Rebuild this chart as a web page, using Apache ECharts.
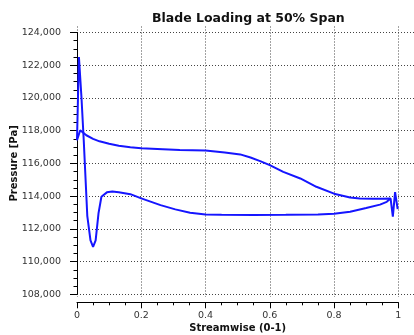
<!DOCTYPE html>
<html>
<head>
<meta charset="utf-8">
<script src="https://cdn.jsdelivr.net/npm/echarts@6/dist/echarts.min.js"></script>
<style>
html,body{margin:0;padding:0;background:#fff;}
#chart{width:414px;height:335px;}
</style>
</head>
<body>
<div id="chart"></div>
<script>
// Pressure side (upper curve), from trailing edge to leading edge
const upperX = [0.998, 0.990, 0.983, 0.976, 0.95, 0.92, 0.88, 0.85, 0.80, 0.745, 0.695, 0.642, 0.60, 0.57, 0.54, 0.508, 0.46, 0.40, 0.32, 0.25, 0.20, 0.166, 0.13, 0.10, 0.07, 0.05, 0.029, 0.01, 0.0];
const upperP = [113200, 114250, 112750, 113850, 113840, 113840, 113850, 113920, 114150, 114570, 115080, 115485, 115890, 116140, 116360, 116550, 116670, 116790, 116820, 116880, 116920, 116980, 117080, 117200, 117350, 117500, 117720, 118030, 117420];
// Suction side (lower curve incl. leading-edge spike), from leading edge to trailing edge
const lowerX = [0.0, 0.006, 0.014, 0.021, 0.032, 0.042, 0.05, 0.058, 0.067, 0.076, 0.093, 0.11, 0.13, 0.166, 0.2, 0.26, 0.306, 0.352, 0.4, 0.45, 0.55, 0.65, 0.75, 0.80, 0.85, 0.90, 0.943, 0.964, 0.976];
const lowerP = [117420, 122500, 120000, 117400, 112800, 111300, 110900, 111300, 112960, 113960, 114230, 114280, 114230, 114120, 113860, 113450, 113190, 112980, 112880, 112860, 112850, 112860, 112880, 112920, 113040, 113270, 113480, 113650, 113850];
const xTicks = [0, 0.2, 0.4, 0.6, 0.8, 1];
const yMin = 108000, yMax = 124000, yStep = 2000;

const FONT = 'DejaVu Sans';
const lineColor = '#1515ff';
const gridDots = {type: [1, 2], color: '#444', width: 1};

const zip = (xs, ys) => xs.map((x, i) => [x, ys[i]]);

const chart = echarts.init(document.getElementById('chart'));
chart.setOption({
  animation: false,
  backgroundColor: '#fff',
  title: {
    text: 'Blade Loading at 50% Span',
    left: 147, top: 7,
    textStyle: {fontFamily: FONT, fontSize: 12.5, fontWeight: 'bold', color: '#111'}
  },
  grid: [
    {left: 77, right: 15.7, top: 32.5, bottom: 40.7, containLabel: false, outerBoundsMode: 'none'},
    {left: 71, right: 0, top: 32.5, bottom: 40.7, containLabel: false, outerBoundsMode: 'none'},
    {left: 77, right: 15.7, top: 26.5, bottom: 38, containLabel: false, outerBoundsMode: 'none'}
  ],
  xAxis: [
    {
      gridIndex: 0, type: 'value', min: xTicks[0], max: xTicks[xTicks.length - 1], interval: 0.2, offset: 8,
      axisLine: {show: true, lineStyle: {color: '#000', width: 1}},
      axisTick: {show: true, length: 6, lineStyle: {color: '#000'}},
      minorTick: {show: true, splitNumber: 4, length: 3, lineStyle: {color: '#000'}},
      splitLine: {show: false},
      axisLabel: {fontFamily: FONT, fontSize: 9.5, color: '#333', margin: 8,
        formatter: v => String(v)},
      name: 'Streamwise (0-1)', nameLocation: 'middle', nameGap: 21, nameMoveOverlap: false,
      nameTextStyle: {fontFamily: FONT, fontSize: 10, fontWeight: 'bold', color: '#111'}
    },
    {gridIndex: 1, type: 'value', min: 0, max: 1, show: false},
    {
      gridIndex: 2, type: 'value', min: 0, max: 1, interval: 0.2,
      axisLine: {show: false}, axisTick: {show: false}, axisLabel: {show: false},
      splitLine: {show: true, lineStyle: gridDots}
    }
  ],
  yAxis: [
    {
      gridIndex: 0, type: 'value', min: yMin, max: yMax, interval: yStep, offset: 6,
      axisLine: {show: true, lineStyle: {color: '#000', width: 1}},
      axisTick: {show: true, length: 7, lineStyle: {color: '#000'}},
      minorTick: {show: true, splitNumber: 4, length: 3.5, lineStyle: {color: '#000'}},
      splitLine: {show: false},
      axisLabel: {fontFamily: FONT, fontSize: 9.5, color: '#333', margin: 10,
        formatter: v => v.toLocaleString('en-US')},
      name: 'Pressure [Pa]', nameLocation: 'middle', nameGap: 52, nameMoveOverlap: false,
      nameTextStyle: {fontFamily: FONT, fontSize: 10, fontWeight: 'bold', color: '#111'}
    },
    {
      gridIndex: 1, type: 'value', min: yMin, max: yMax, interval: yStep,
      axisLine: {show: false}, axisTick: {show: false}, axisLabel: {show: false},
      splitLine: {show: true, lineStyle: gridDots}
    },
    {gridIndex: 2, type: 'value', min: yMin, max: yMax, show: false}
  ],
  series: [
    {
      type: 'line', xAxisIndex: 0, yAxisIndex: 0, data: zip(upperX, upperP),
      showSymbol: false, symbol: 'none', lineStyle: {color: lineColor, width: 2}, z: 5
    },
    {
      type: 'line', xAxisIndex: 0, yAxisIndex: 0, data: zip(lowerX, lowerP),
      showSymbol: false, symbol: 'none', lineStyle: {color: lineColor, width: 2}, z: 5
    }
  ]
});
</script>
</body>
</html>
